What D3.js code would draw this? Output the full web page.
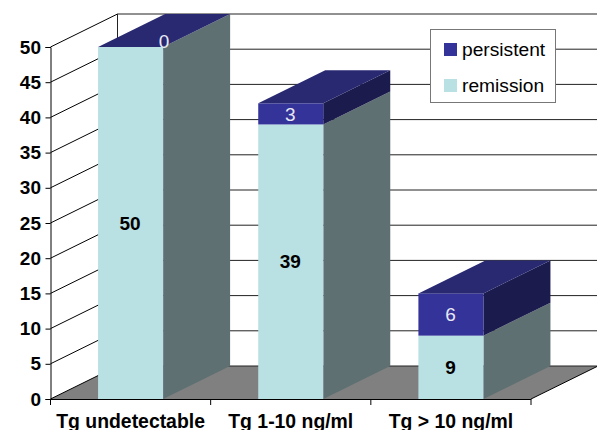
<!DOCTYPE html>
<html>
<head>
<meta charset="utf-8">
<title>Tg outcome</title>
<script src="https://unpkg.com/d3@7/dist/d3.min.js"></script>
<style>
body { margin: 0; background: #fff; }
svg { display: block; }
text { font-family: "Liberation Sans", Arial, sans-serif; }
.axis text { font-size: 19px; font-weight: bold; fill: #000; }
.axis.bottom text { font-size: 19.4px; }
.axis path, .axis line { stroke: #000; }
.val { font-size: 19px; }
.legend text { font-size: 19.2px; fill: #000; }
</style>
</head>
<body>
<div id="chart"></div>
<script>
const categories = ["Tg undetectable", "Tg 1-10 ng/ml", "Tg > 10 ng/ml"];
const remission = [50, 39, 9];
const persistent = [0, 3, 6];
const yTicks = [0, 5, 10, 15, 20, 25, 30, 35, 40, 45, 50];
const seriesNames = ["persistent", "remission"];

const width = 597, height = 430;
const plotLeft = 50.5, plotRight = 531, plotBottom = 399, plotTop = 47;
// oblique offset of the 3d box
const dx = 67, dy = 33;

const colours = {
  remission: { front: "#b9e0e3", side: "#5e7072" },
  persistent: { front: "#333399", side: "#1b1b4e", top: "#292972" }
};

const svg = d3.select("#chart").append("svg")
  .attr("width", width).attr("height", height);

const y = d3.scaleLinear().domain([0, 50]).range([plotBottom, plotTop]);
const x = d3.scaleBand().domain(categories).range([plotLeft, plotRight])
  .paddingInner(0.594).paddingOuter(0.297);

const poly = pts => pts.map(p => p.join(",")).join(" ");

// walls and floor
const wall = svg.append("g");
wall.append("polygon")
  .attr("points", poly([[plotLeft, plotBottom], [plotLeft + dx, plotBottom - dy], [width + 1, plotBottom - dy], [plotRight, plotBottom]]))
  .attr("fill", "#808080");

wall.selectAll(".back").data(yTicks).join("line")
  .attr("class", "back")
  .attr("x1", plotLeft + dx).attr("x2", width)
  .attr("y1", d => y(d) - dy).attr("y2", d => y(d) - dy)
  .attr("stroke", "#222").attr("stroke-width", 1);

wall.selectAll(".side").data(yTicks).join("line")
  .attr("class", "side")
  .attr("x1", plotLeft).attr("x2", plotLeft + dx)
  .attr("y1", d => y(d)).attr("y2", d => y(d) - dy)
  .attr("stroke", "#000").attr("stroke-width", 1);

wall.append("line")
  .attr("x1", plotLeft + dx).attr("x2", plotLeft + dx)
  .attr("y1", y(50) - dy).attr("y2", y(0) - dy)
  .attr("stroke", "#222");

wall.append("line")
  .attr("x1", plotRight).attr("x2", plotRight + dx)
  .attr("y1", plotBottom).attr("y2", plotBottom - dy)
  .attr("stroke", "#000");

// bars
const bars = svg.append("g");
function box(cat, from, to, c) {
  const x0 = x(cat), x1 = x0 + x.bandwidth();
  const y0 = y(from), y1 = y(to);
  if (to > from) {
    bars.append("polygon")
      .attr("points", poly([[x1, y0], [x1 + dx, y0 - dy], [x1 + dx, y1 - dy], [x1, y1]]))
      .attr("fill", c.side);
    bars.append("rect")
      .attr("x", x0).attr("y", y1)
      .attr("width", x.bandwidth()).attr("height", y0 - y1)
      .attr("fill", c.front);
  }
}
categories.forEach((cat, i) => {
  box(cat, 0, remission[i], colours.remission);
  box(cat, remission[i], remission[i] + persistent[i], colours.persistent);
  // top of the stack
  const t = y(remission[i] + persistent[i]);
  const x0 = x(cat), x1 = x0 + x.bandwidth();
  bars.append("polygon")
    .attr("points", poly([[x0, t], [x0 + dx, t - dy], [x1 + dx, t - dy], [x1, t]]))
    .attr("fill", colours.persistent.top);
});

// value labels
const labels = svg.append("g").attr("text-anchor", "middle");
categories.forEach((cat, i) => {
  const cx = x(cat) + x.bandwidth() / 2;
  labels.append("text").attr("class", "val")
    .attr("x", cx - 0.5).attr("y", y(remission[i] / 2)).attr("dy", ".35em")
    .attr("font-weight", "bold").attr("fill", "#000")
    .text(remission[i]);
  const zero = persistent[i] === 0;
  labels.append("text").attr("class", "val")
    .attr("x", zero ? cx + dx / 2 : cx - 0.5)
    .attr("y", zero ? y(remission[i]) - 6 : y(remission[i] + persistent[i] / 2))
    .attr("dy", ".35em")
    .attr("fill", "#e8e8f4")
    .text(persistent[i]);
});

// axes
svg.append("g").attr("class", "axis")
  .attr("transform", `translate(${plotLeft},0)`)
  .call(d3.axisLeft(y).tickValues(yTicks).tickSize(5).tickPadding(4.5));

const xAxis = svg.append("g").attr("class", "axis bottom")
  .attr("transform", `translate(0,${plotBottom})`)
  .call(d3.axisBottom(x).tickSize(0).tickSizeOuter(0).tickPadding(15));
xAxis.select(".domain").attr("d", `M${plotLeft},0.5H${plotRight}`);
xAxis.selectAll(".edge").data(d3.range(categories.length + 1)).join("line")
  .attr("class", "edge")
  .attr("x1", i => plotLeft + i * x.step()).attr("x2", i => plotLeft + i * x.step())
  .attr("y1", 0).attr("y2", 6);

// legend
const legend = svg.append("g").attr("class", "legend");
legend.append("rect")
  .attr("x", 430.5).attr("y", 29.5).attr("width", 125).attr("height", 73)
  .attr("fill", "#fff").attr("stroke", "#777");
seriesNames.forEach((name, i) => {
  const ly = 49.5 + i * 36;
  legend.append("rect")
    .attr("x", 444).attr("y", ly - 6.5).attr("width", 13).attr("height", 13)
    .attr("fill", colours[name].front);
  legend.append("text")
    .attr("x", 462).attr("y", ly).attr("dy", ".33em")
    .text(name);
});
</script>
</body>
</html>
